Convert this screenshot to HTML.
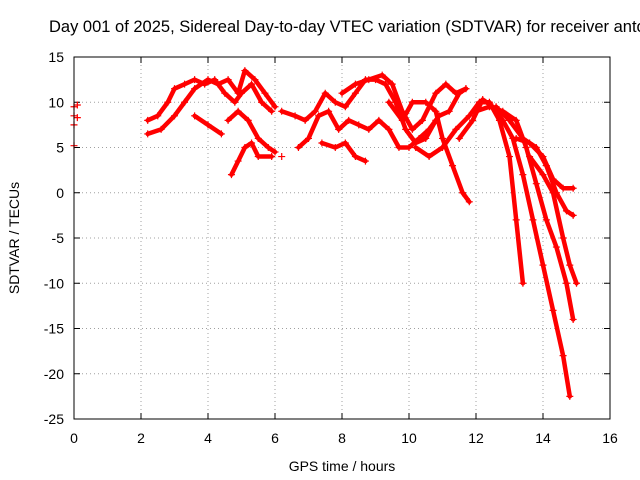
<!DOCTYPE html>
<html><head><meta charset="utf-8"><style>
body{margin:0;background:#fff;overflow:hidden}
svg{display:block;font-family:"Liberation Sans",sans-serif}
</style></head><body>
<svg id="chart" width="640" height="480" viewBox="0 0 640 480">
<text x="49" y="32" font-size="16.5" fill="#000">Day 001 of 2025, Sidereal Day-to-day VTEC variation (SDTVAR) for receiver anto</text>
<g id="grid"></g>
<g id="ticks"></g>
<g id="marks"></g>
<rect x="74" y="57" width="536" height="362" fill="none" stroke="#000" stroke-width="1"/>
<text x="342" y="471" font-size="14" text-anchor="middle">GPS time / hours</text>
<text transform="translate(19,238) rotate(-90)" font-size="14" text-anchor="middle">SDTVAR / TECUs</text>
</svg>
<script>
const xTicks=[0,2,4,6,8,10,12,14,16];
const yTicks=[15,10,5,0,-5,-10,-15,-20,-25];
const isolated=[[0,9.5],[0,8.5],[0,7.5],[0,5.2],[0.1,9.7],[0.1,8.3],[6.2,4]];
const tracks=[
[[2.2,8],[2.5,8.5],[2.8,10],[3.0,11.5],[3.3,12],[3.6,12.5],[3.9,12],[4.2,12.5],[4.5,11],[4.8,10],[5.0,11],[5.3,12],[5.6,10],[5.9,9]],
[[2.2,6.5],[2.6,7],[3.0,8.5],[3.3,10],[3.6,11.5],[4.0,12.5],[4.3,12],[4.6,12.5],[4.9,11],[5.1,13.5],[5.4,12.5],[5.7,11],[6.0,9.5]],
[[3.6,8.5],[4.0,7.5],[4.4,6.5]],
[[4.7,2],[4.9,3.5],[5.1,5],[5.3,5.5],[5.5,4],[5.9,4]],
[[4.6,8],[4.9,9],[5.2,8],[5.5,6],[5.8,5],[6.0,4.5]],
[[6.2,9],[6.6,8.5],[6.9,8],[7.2,9],[7.5,11],[7.8,10],[8.1,9.5],[8.4,11],[8.7,12.5],[9.0,12.5],[9.3,12],[9.6,10],[9.9,7],[10.2,5.5],[10.5,6],[10.8,8]],
[[6.7,5],[7.0,6],[7.3,8.5],[7.6,9],[7.9,7],[8.2,8],[8.5,7.5],[8.8,7],[9.1,8],[9.4,7],[9.7,5],[10.0,5],[10.3,6],[10.6,7],[10.9,8.5],[11.2,9],[11.5,11],[11.7,11.5]],
[[7.4,5.5],[7.8,5],[8.1,5.5],[8.4,4],[8.7,3.5]],
[[8.0,11],[8.4,12],[8.8,12.5],[9.2,13],[9.5,12],[9.8,9],[10.1,7],[10.4,8],[10.8,11],[11.1,12],[11.4,11],[11.7,11.5]],
[[9.4,10],[9.8,8],[10.1,10],[10.5,10],[10.8,9],[11.0,6],[11.3,3],[11.6,0],[11.8,-1]],
[[10.2,5],[10.6,4],[11.0,5],[11.4,7],[11.8,8.5],[12.1,10],[12.4,10],[12.7,8],[13.0,4],[13.2,-3],[13.4,-10]],
[[11.5,6],[11.9,8],[12.2,10.3],[12.5,9.5],[12.8,8],[13.1,6],[13.4,2],[13.7,-3],[14.0,-8],[14.3,-13],[14.6,-18],[14.8,-22.5]],
[[12.0,9],[12.4,9.5],[12.8,9],[13.2,8],[13.5,5],[13.8,1],[14.1,-3],[14.4,-6],[14.7,-10],[14.9,-14]],
[[12.6,9.5],[13.0,8],[13.4,6],[13.8,5],[14.1,3],[14.4,0],[14.7,-2],[14.9,-2.5]],
[[13.2,6],[13.6,5.5],[14.0,4],[14.3,1.5],[14.6,0.5],[14.9,0.5]],
[[13.6,4],[14.0,2],[14.3,0],[14.6,-5],[14.8,-8],[15.0,-10]]
];
const X0=74,X1=610,Y0=419,Y1=57;
const xs=v=>X0+(v-0)/16*(X1-X0);
const ys=v=>Y0-(v+25)/40*(Y0-Y1);
const NS="http://www.w3.org/2000/svg";
function mk(t,a,p){const e=document.createElementNS(NS,t);for(const k in a)e.setAttribute(k,a[k]);p.appendChild(e);return e;}
const grid=document.getElementById('grid'),ticks=document.getElementById('ticks'),marks=document.getElementById('marks');
xTicks.forEach(v=>{const x=xs(v);
 if(v>0&&v<16){const g=mk('line',{x1:x,x2:x,y1:Y1,y2:Y0,stroke:'#a0a0a0','stroke-dasharray':'1,3'},grid);}
 mk('line',{x1:x,x2:x,y1:Y0,y2:Y0-6,stroke:'#000'},ticks);mk('line',{x1:x,x2:x,y1:Y1,y2:Y1+6,stroke:'#000'},ticks);
 const t=mk('text',{x:x,y:Y0+24,'font-size':14,'text-anchor':'middle'},ticks);t.textContent=v;
 });
yTicks.forEach(v=>{const y=ys(v);
 if(v<15&&v>-25){const g=mk('line',{x1:X0,x2:X1,y1:y,y2:y,stroke:'#a0a0a0','stroke-dasharray':'1,3'},grid);}
 mk('line',{x1:X0,x2:X0+6,y1:y,y2:y,stroke:'#000'},ticks);mk('line',{x1:X1,x2:X1-6,y1:y,y2:y,stroke:'#000'},ticks);
 const t=mk('text',{x:X0-10,y:y+5,'font-size':14,'text-anchor':'end'},ticks);t.textContent=v;
 });
function plus(x,y){const p=mk('path',{d:`M${x-3.5},${y}h7M${x},${y-3.5}v7`,stroke:'#f00','stroke-width':1.2},marks);
 }
tracks.forEach(tr=>{
 const pl=mk('polyline',{points:tr.map(p=>xs(p[0])+','+ys(p[1])).join(' '),fill:'none',stroke:'#f00','stroke-width':4.5,'stroke-linejoin':'round','stroke-linecap':'round'},marks);
 
 tr.forEach(p=>plus(xs(p[0]),ys(p[1])));});
isolated.forEach(p=>plus(xs(p[0]),ys(p[1])));
</script>
</body></html>
